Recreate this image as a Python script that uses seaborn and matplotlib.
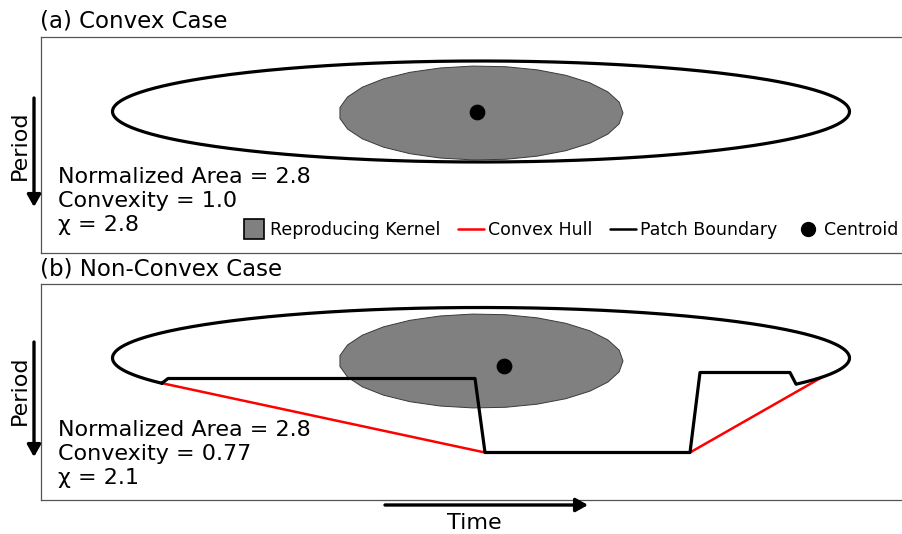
import numpy as np
import matplotlib
matplotlib.use("Agg")
import matplotlib.pyplot as plt
from matplotlib.lines import Line2D
from matplotlib.patches import FancyArrowPatch
import seaborn as sns

# ---- patch geometry (time along x, period along y, period grows downward) ----
ellipse_center = (440.5, 74.5)
ellipse_axes = (368.5, 50.5)

kernel_axes = (142.0, 47.0)
kernel_center = {"a": (440.5, 76.0), "b": (440.5, 77.5)}
centroid = {"a": (436.5, 75.0), "b": (463.5, 82.0)}

# non-convex patch: boundary cut between two points on the ellipse
cut_time = [121.5, 127.5, 434.5, 444.5, 649.5, 659.5, 749.5, 755.5]
cut_period = [99.7, 95.0, 95.0, 169.0, 169.0, 89.0, 89.0, 100.7]

# straight parts of its convex hull
hull_time = [121.5, 444.5, 649.5, 781.5]
hull_period = [99.7, 169.0, 169.0, 93.7]

# summary statistics per case
panel_titles = ["(a) Convex Case", "(b) Non-Convex Case"]
norm_area = ["2.8", "2.8"]
convexity = ["1.0", "0.77"]
chi = ["2.8", "2.1"]

legend_labels = ["Reproducing Kernel", "Convex Hull", "Patch Boundary", "Centroid"]
kernel_color = "#808080"
hull_color = "#ff0000"

W, H = 902, 534
sns.set_style("white")
plt.rcParams["font.family"] = ["DejaVu Sans"]
plt.rcParams["text.color"] = "black"

fig = plt.figure(figsize=(W / 100, H / 100), dpi=100)


def fx(px):
    return px / W


def fy(py):
    return 1 - py / H


def ellipse_arc(center, axes, t0, t1, n=400):
    t = np.linspace(t0, t1, n)
    return center[0] + axes[0] * np.cos(t), center[1] + axes[1] * np.sin(t)


def angle_on(center, axes, x, y):
    return np.arctan2((y - center[1]) / axes[1], (x - center[0]) / axes[0])


def setup_axes(top_px):
    ax = fig.add_axes([fx(40.5), fy(top_px + 216), 870 / W, 216 / H])
    ax.set_xlim(0, 870)
    ax.set_ylim(216, 0)
    ax.set_xticks([])
    ax.set_yticks([])
    for side in ["left", "top", "bottom"]:
        ax.spines[side].set_color("#555555")
        ax.spines[side].set_linewidth(0.9)
    ax.spines["right"].set_visible(False)
    return ax


def draw_kernel(ax, key):
    kx, ky = ellipse_arc(kernel_center[key], kernel_axes, 0, 2 * np.pi, 28)
    ax.fill(kx, ky, facecolor=kernel_color, edgecolor="#3a3a3a", lw=0.7, zorder=1)
    cx, cy = centroid[key]
    sns.scatterplot(x=[cx], y=[cy], ax=ax, s=110, color="black",
                    edgecolor="black", zorder=5, legend=False)


ax_a = setup_axes(37)
ax_b = setup_axes(283.5)

# (a) convex patch: full ellipse
draw_kernel(ax_a, "a")
ex, ey = ellipse_arc(ellipse_center, ellipse_axes, 0, 2 * np.pi)
sns.lineplot(x=ex, y=ey, ax=ax_a, sort=False, estimator=None,
             color="black", lw=2.3, zorder=4)

# (b) non-convex patch: ellipse top arc closed by the cut
draw_kernel(ax_b, "b")
t_start = angle_on(ellipse_center, ellipse_axes, cut_time[-1], cut_period[-1])
t_end = angle_on(ellipse_center, ellipse_axes, cut_time[0], cut_period[0]) - 2 * np.pi
ax_arc, ay_arc = ellipse_arc(ellipse_center, ellipse_axes, t_start, t_end)
bx = np.concatenate([cut_time, ax_arc])
by = np.concatenate([cut_period, ay_arc])
sns.lineplot(x=hull_time, y=hull_period, ax=ax_b, sort=False, estimator=None,
             color=hull_color, lw=1.8, zorder=3)
sns.lineplot(x=bx, y=by, ax=ax_b, sort=False, estimator=None,
             color="black", lw=2.3, zorder=4)

# titles
fig.text(fx(40), fy(27), panel_titles[0], fontsize=16.5, va="baseline", ha="left")
fig.text(fx(40), fy(275), panel_titles[1], fontsize=16.5, va="baseline", ha="left")

# statistics
for i, base in enumerate([183, 436]):
    lines = [f"Normalized Area = {norm_area[i]}",
             f"Convexity = {convexity[i]}",
             f"\u03c7 = {chi[i]}"]
    for j, s in enumerate(lines):
        fig.text(fx(58), fy(base + 24 * j), s, fontsize=16,
                 va="baseline", ha="left")

# period arrows and labels
arrow_kw = dict(arrowstyle="-|>,head_length=0.8,head_width=0.45",
                mutation_scale=9, color="black", lw=2.4,
                shrinkA=0, shrinkB=0)
for top, bottom, mid in [(98, 207, 145), (342, 457, 390)]:
    fig.add_artist(FancyArrowPatch(
        (fx(34), fy(top)), (fx(34), fy(bottom)),
        transform=fig.transFigure, **arrow_kw))
    fig.text(fx(20), fy(mid), "Period", rotation=90, fontsize=16,
             ha="center", va="center")

# time arrow and label
fig.add_artist(FancyArrowPatch(
    (fx(385), fy(505)), (fx(588), fy(505)),
    transform=fig.transFigure, **arrow_kw))
fig.text(fx(474.5), fy(529), "Time", fontsize=16, ha="center", va="baseline")

# legend
handles = [
    Line2D([], [], marker="s", ms=14.5, mfc=kernel_color, mec="black",
           mew=1.2, ls="none"),
    Line2D([], [], color=hull_color, lw=1.8),
    Line2D([], [], color="black", lw=1.8),
    Line2D([], [], marker="o", ms=10, mfc="black", mec="black", ls="none"),
]
ax_a.legend(handles, legend_labels, ncol=4, loc="center left",
            bbox_to_anchor=(fx(232), fy(230)), bbox_transform=fig.transFigure,
            frameon=False, borderpad=0, fontsize=12.5, handlelength=1.5,
            handletextpad=0.2, columnspacing=1.03)

fig.savefig("out.png", dpi=100)
